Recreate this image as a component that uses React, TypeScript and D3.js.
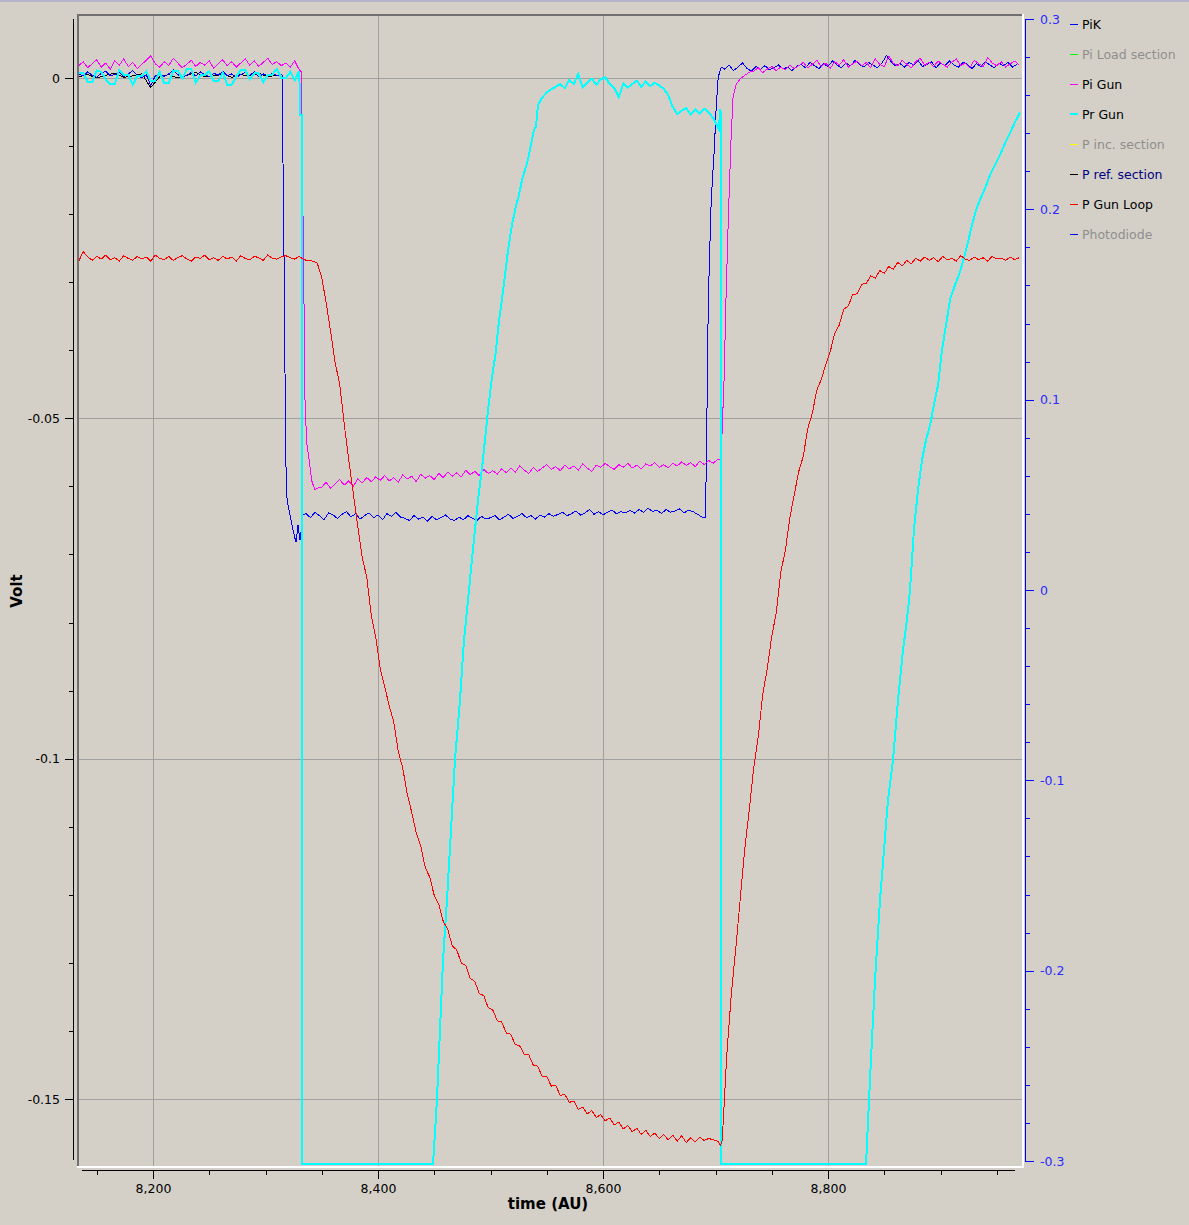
import React from 'react';
import * as d3 from 'd3';

const W = 1189;
const H = 1225;

// ---------- axis ticks ----------
const xMajorTicks = [8200, 8400, 8600, 8800];
const xMinorTicks = [8150, 8250, 8300, 8350, 8450, 8500, 8550, 8650, 8700, 8750, 8850, 8900, 8950];
const leftMajorTicks = [0, -0.05, -0.1, -0.15];
const leftMajorLabels = ['0', '-0.05', '-0.1', '-0.15'];
const leftMinorTicks = [-0.01, -0.02, -0.03, -0.04, -0.06, -0.07, -0.08, -0.09, -0.11, -0.12, -0.13, -0.14];
const rightMajorTicks = [0.3, 0.2, 0.1, 0, -0.1, -0.2, -0.3];
const rightMajorLabels = ['0.3', '0.2', '0.1', '0', '-0.1', '-0.2', '-0.3'];
const rightMinorTicks = [0.28, 0.26, 0.24, 0.22, 0.18, 0.16, 0.14, 0.12, 0.08, 0.06, 0.04, 0.02, -0.02, -0.04, -0.06, -0.08, -0.12, -0.14, -0.16, -0.18, -0.22, -0.24, -0.26, -0.28];

// ---------- legend ----------
const legendNames = ['PiK', 'Pi Load section', 'Pi Gun', 'Pr Gun', 'P inc. section', 'P ref. section', 'P Gun Loop', 'Photodiode'];
const legendColors = ['#0000ff', '#00ff00', '#ff00ff', '#00ffff', '#ffff00', '#000000', '#ff0000', '#0000ff'];
const legendTextColors = ['#000000', '#8e8e8e', '#000000', '#000000', '#8e8e8e', '#000080', '#000000', '#8e8e8e'];
const legendWidths = [1, 1, 1, 2, 1, 1, 1, 1];

// ---------- data (time in AU, values in mV) ----------
const SAMPLE_DT = 4;

// P ref. section (black)
const prefStartT = 8134;
const prefStartMv = [0.2, 0.5, 0.0, 0.4, 0.7, 0.1, 0.3, 0.6, -1.4, 0.2, 0.5, 0.0, 0.4, 0.8, 0.2, 0.3, 0.6, 0.1, 0.5, 0.3, 0.7, 0.2, 0.4];

// PiK (blue)
const pikStartT = 8134;
const pikStartMv = [0.6, 0.3, 0.9, 0.4, 0.1, 0.7, 1.0, 0.3, 0.5, 0.8, 0.2, 0.6, 1.1, 0.4, 0.0, 0.5, -1.1, 0.3, 0.7, 0.2, 0.6, 1.2, 0.5, 0.1, 0.4, 0.8, 0.3, 0.9, 0.5, 0.2, 0.7, 0.4, 1.0, 0.3, 0.6, 0.1, 0.5, 0.8, 0.4, 0.9, 0.2, 0.6, 0.3, 0.7, 0.4, 0.5];
const pikDropPts: [number, number][] = [[8314.7, 0.4], [8316.4, -25], [8318, -56], [8319.2, -62], [8321, -63.5], [8322.7, -64.9], [8324.4, -66.4], [8326, -67.5], [8327.1, -68.2], [8328.9, -65.7], [8330.7, -67.9], [8333.3, -64.2]];
const pikPlateauT = 8336;
const pikPlateauMv = [
  -64.0, -64.6, -63.8, -64.3, -64.9, -63.9, -64.2, -64.7, -64.1, -63.7, -64.5, -64.0, -64.8, -64.3, -63.9, -64.6, -64.2, -64.9, -64.0, -64.4, -63.8, -64.5,
  -64.7, -65.0, -64.3, -64.8, -64.5, -65.1, -64.4, -64.9, -64.6, -64.2, -64.8, -65.0, -64.5, -64.9, -64.3, -64.7, -65.0, -64.4, -64.8, -64.6,
  -64.3, -64.9, -64.5, -64.1, -64.7, -64.4, -64.0, -64.6, -64.3, -64.8, -64.2, -64.5, -64.0, -64.4, -64.1,
  -63.8, -64.3, -64.0, -63.6, -64.2, -63.9, -63.4, -64.1, -63.7, -64.2, -63.8, -63.5, -64.0, -63.7, -63.9,
  -63.5, -63.9, -63.4, -63.8, -63.2, -63.7, -63.5, -64.0, -63.4, -63.8, -63.6, -63.3, -63.9, -63.5, -63.7, -64.1, -64.5,
];
const pikRisePts: [number, number][] = [[8690.9, -64.5], [8691.8, -57.6], [8693.6, -32.6], [8696.2, -17.9], [8698.9, -10.6], [8700.7, -4.0], [8702.4, 0.1], [8705.1, 1.6]];
const pikEndT = 8708;
const pikEndMv = [
  1.3, 1.9, 1.1, 1.6, 2.2, 1.4, 1.0, 1.7, 1.3, 1.8, 1.2, 1.5, 1.9, 1.3, 1.6, 1.1, 1.7,
  2.0, 1.5, 2.3, 1.8, 1.4, 2.1, 1.7, 2.5, 1.9, 1.5, 2.2, 1.8, 2.6, 2.0, 1.6, 2.3, 1.9, 1.5, 2.2, 3.3,
  2.4, 1.8, 2.1, 1.6, 2.3, 1.9, 2.6, 1.7, 2.0, 2.4, 1.5, 2.2, 1.8, 2.5, 1.9, 1.6, 2.3, 2.0, 1.4, 2.1, 1.7, 2.4, 1.9, 1.5, 2.2, 1.8, 2.3, 1.6, 2.0,
];

// Pi Gun (magenta)
const piGunStartT = 8134;
const piGunStartMv = [
  1.8, 2.4, 1.5, 2.1, 2.7, 1.6, 2.2, 1.3, 2.5, 1.9, 2.8, 1.7, 2.3, 1.4, 2.0, 2.6, 3.3, 2.1, 1.6, 2.4,
  1.8, 2.9, 2.2, 1.5, 2.0, 2.6, 1.7, 2.3, 1.9, 2.5, 1.4, 2.1, 2.7, 1.8, 2.4, 1.6, 2.2, 2.8, 1.9, 2.5,
  1.7, 2.3, 2.9, 2.0, 2.4, 1.8, 2.2, 1.6, 2.5, 1.2,
];
const piGunDropPts: [number, number][] = [[8331.9, 0.9], [8332.4, -6.2], [8333.1, -16.8], [8334.2, -32.6], [8335.1, -47.3], [8336.6, -53.6], [8338.8, -56.1], [8341.0, -59.1], [8342.4, -59.8], [8344.0, -60.5], [8346.9, -60.2]];
const piGunPlateauT = 8350;
const piGunPlateauMv = [
  -60.1, -59.4, -60.3, -59.6, -59.0, -59.8, -59.2, -60.0, -58.9, -59.5, -58.7, -59.3, -58.6,
  -59.1, -58.4, -59.2, -58.7, -59.4, -58.3, -58.9, -58.5, -59.3, -58.2, -58.8, -58.4, -59.0,
  -58.1, -58.7, -57.9, -58.5, -58.0, -58.6, -57.6, -58.3, -57.8, -58.4, -57.5, -58.1, -57.7,
  -58.2, -57.4, -58.0, -57.3, -57.9, -57.0, -57.6, -58.1, -57.2, -57.8, -57.3, -56.8, -57.5,
  -57.1, -57.7, -56.9, -57.4, -57.0, -57.6, -56.7, -57.3, -57.8, -56.9, -57.2, -56.6, -57.1,
  -57.5, -56.8, -57.2, -56.6, -57.3, -56.9, -57.4, -56.7, -57.0, -56.5, -57.2, -56.8, -57.3,
  -56.6, -57.0, -56.4, -56.9, -56.5, -57.1, -56.3, -56.8, -56.2, -56.6, -56.0,
];
const piGunRisePts: [number, number][] = [[8704.9, -56.1], [8707.6, -44.4], [8709.3, -32.6], [8711.1, -22.3], [8712.4, -15.7], [8713.8, -9.1], [8715.6, -2.8], [8718.2, -1.0], [8721.8, -0.15], [8726.2, 0.44], [8730.7, 0.88]];
const piGunEndT = 8734;
const piGunEndMv = [
  1.0, 1.5, 0.8, 1.3, 1.7, 1.1, 1.6, 1.2, 1.9, 1.4,
  1.8, 2.3, 1.5, 2.0, 2.6, 1.7, 2.2, 1.4, 2.4, 1.9, 2.7, 1.6, 2.1, 2.5, 1.8, 2.3, 1.5, 2.8, 2.0, 1.7,
  3.2, 2.2, 1.8, 2.6, 2.0, 1.5, 2.4, 2.9, 1.9, 2.3,
  1.7, 2.5, 2.0, 1.6, 2.3, 2.8, 1.8, 2.2, 1.5, 2.6, 2.1, 1.7, 3.0, 2.2, 1.8, 2.4, 1.6, 2.1, 2.5, 1.9,
];

// Pr Gun (cyan) – the trace saturates below the visible range
const prGunStartT = 8134;
const prGunStartMv = [
  0.8, 0.8, -0.6, -0.6, 1.1, 0.9, -0.2, -0.9, -0.9, 1.2, 0.5, 0.5, -1.0, 0.3, 0.3, 1.0, -0.4, -0.4, 0.9, -0.8,
  -0.8, 1.1, 1.1, -0.1, 1.3, 1.3, -0.7, 0.4, 0.4, 1.0, -0.5, -0.5, 0.8, -1.0, -1.0, 0.2, 1.2, 1.2, -0.2, 0.7,
  0.7, -0.6, 0.5, 0.5, 1.3, 0.0, 0.0, 0.9, -0.3, 1.0,
];
const prGunDropPts: [number, number][] = [[8330.9, -5.5], [8332.1, -5.5], [8332.3, -159.6], [8448.9, -159.6]];
const prGunRamp1Pts: [number, number][] = [
  [8452.4, -150.2], [8455.1, -139.9], [8457.8, -129.6], [8461.3, -120.8], [8464.9, -110.5], [8468.4, -100.2], [8472.9, -91.4], [8476.4, -82.6],
  [8480, -76.7], [8484.4, -69.3], [8488.9, -62.0], [8493.3, -56.1], [8496.9, -50.2], [8500.4, -45.1], [8504.9, -40.0], [8507.6, -35.6],
  [8510.2, -32.6], [8512.9, -28.9], [8515.6, -25.3], [8519.1, -21.6], [8521.8, -19.4], [8525.3, -17.2], [8528, -15.0], [8530.7, -13.5],
  [8533.3, -12.0], [8536, -9.8], [8538.7, -7.6], [8540.4, -7.2], [8542.2, -4.0], [8545.8, -2.9], [8550.2, -2.1], [8555.6, -1.5],
];
const prGunPlateauT = 8562;
const prGunPlateauMv = [
  -0.88, -1.5, -0.3, -0.9, 0.59, -1.4, -0.7, -0.1, -1.0, -0.2, 0.1, -0.9, -1.5, -2.79, -0.8, -1.4, -0.9, -0.4,
  -1.3, -0.5, -1.2, -0.7, -1.1, -1.6, -2.5, -4.26, -5.3, -4.8, -4.4, -5.4, -4.6, -5.2, -4.5, -5.1, -5.88, -7.2,
];
const prGunFallPts: [number, number][] = [[8703.3, -7.6], [8703.9, -4.6], [8704.6, -5.0], [8705.0, -159.6], [8833.8, -159.6]];
const prGunRamp2Pts: [number, number][] = [
  [8837.3, -147.2], [8841.8, -132.5], [8846.2, -120.8], [8849.8, -113.4], [8853.3, -106.1], [8857.8, -100.2], [8862.2, -91.4], [8866.7, -84.0],
  [8870.2, -79.6], [8872.9, -75.2], [8876.4, -66.4], [8880, -60.5], [8883.6, -56.1], [8887.1, -53.2], [8890.7, -51.0], [8894.2, -48.0],
  [8897.8, -45.1], [8901.3, -40.0], [8904.9, -36.3], [8908.4, -32.6], [8912.9, -30.4], [8917.3, -28.5], [8920.9, -26.4], [8924.4, -24.1],
  [8928, -21.6], [8931.6, -19.4], [8935.1, -17.9], [8939.6, -16.2], [8944, -14.3], [8948.4, -12.8], [8952.9, -11.3], [8957.3, -9.6],
  [8961.8, -8.1], [8966.2, -6.5], [8970.7, -5.1],
];

// P Gun Loop (red)
const gunLoopStartT = 8134;
const gunLoopStartMv = [
  -26.9, -25.5, -26.3, -26.8, -26.2, -26.6, -26.0, -26.7, -26.4, -26.9, -26.1, -26.5, -26.8, -26.2, -26.6, -26.3, -26.9, -26.0, -26.5, -26.7,
  -26.2, -26.8, -26.4, -26.1, -26.6, -26.9, -26.3, -26.5, -26.0, -26.7, -26.4, -26.8, -26.2, -26.6, -26.3, -26.9, -26.1, -26.5, -26.7, -26.2,
  -26.4, -26.8, -26.0, -26.5, -26.6, -26.3, -26.1, -26.4, -26.6, -26.2, -26.7, -26.8, -26.9, -27.2,
];
const gunLoopDecayT = 8350;
const gunLoopDecayMv = [
  -29.3, -33.1, -37.4, -41.9, -45.0, -50.9, -56.1, -61.0, -65.8, -70.5, -73.3, -78.9, -82.2, -86.8, -89.4, -92.3, -94.6, -98.9, -101.4, -105.2,
  -107.9, -110.9, -112.8, -116.0, -117.4, -120.1, -121.4, -123.9, -125.1, -127.5, -128.1, -130.0, -130.4, -132.3, -132.7, -134.5, -134.8, -136.6, -136.9, -138.5,
  -138.7, -140.3, -140.5, -142.0, -142.2, -143.5, -143.5, -145.0, -145.2, -146.7, -146.7, -148.1, -148.0, -149.5, -149.3, -150.5, -150.3, -151.5, -151.2, -152.2,
  -151.7, -152.7, -152.3, -153.2, -152.8, -153.8, -153.4, -154.4, -153.9, -154.8, -154.3, -155.2, -154.6, -155.5, -155.0, -155.8, -155.2, -156.0, -155.3, -156.2,
  -155.4, -156.4, -155.7, -156.3, -155.6, -156.1, -155.8, -156.0, -156.2,
];
const gunLoopMinPts: [number, number][] = [[8704.6, -156.8]];
const gunLoopRiseT = 8706;
const gunLoopRiseMv = [
  -156.0, -143.6, -134.7, -127.9, -120.6, -113.3, -107.5, -101.3, -96.8, -90.5, -86.8, -82.0, -78.6, -72.6, -69.5, -64.7, -61.2, -57.8, -55.6, -51.5,
  -49.3, -45.9, -44.3, -42.1, -40.2, -37.5, -36.3, -34.0, -33.5, -31.8, -31.7, -30.3, -30.2, -29.1, -29.4, -28.3, -28.7, -27.7, -28.1, -27.1,
  -27.6, -26.8, -27.3,
  -26.5, -26.9, -26.3, -26.8, -26.4, -27.0, -26.2, -26.7, -26.5, -26.9, -26.1, -26.6, -26.8, -26.3, -26.7, -26.4, -26.9, -26.2, -26.6, -26.5,
  -26.8, -26.3, -26.7, -26.4,
];

// ---------- assembly helpers ----------
type Pt = [number, number];
const sampled = (t0: number, vals: number[], dt: number = SAMPLE_DT): Pt[] => vals.map((v, i) => [t0 + i * dt, v] as Pt);

const seriesPref: Pt[] = sampled(prefStartT, prefStartMv, 8);
const seriesPik: Pt[] = [...sampled(pikStartT, pikStartMv), ...pikDropPts, ...sampled(pikPlateauT, pikPlateauMv), ...pikRisePts, ...sampled(pikEndT, pikEndMv)];
const seriesPiGun: Pt[] = [...sampled(piGunStartT, piGunStartMv), ...piGunDropPts, ...sampled(piGunPlateauT, piGunPlateauMv), ...piGunRisePts, ...sampled(piGunEndT, piGunEndMv)];
const seriesPrGun: Pt[] = [...sampled(prGunStartT, prGunStartMv), ...prGunDropPts, ...prGunRamp1Pts, ...sampled(prGunPlateauT, prGunPlateauMv), ...prGunFallPts, ...prGunRamp2Pts];
const seriesGunLoop: Pt[] = [...sampled(gunLoopStartT, gunLoopStartMv), ...sampled(gunLoopDecayT, gunLoopDecayMv), ...gunLoopMinPts, ...sampled(gunLoopRiseT, gunLoopRiseMv)];

const curves = [
  { data: seriesPref, color: '#000000', width: 1 },
  { data: seriesPik, color: '#0000ff', width: 1 },
  { data: seriesPiGun, color: '#ff00ff', width: 1 },
  { data: seriesPrGun, color: '#00ffff', width: 2 },
  { data: seriesGunLoop, color: '#ff0000', width: 1 },
];

// ---------- layout ----------
const CANVAS = { left: 79, top: 16, right: 1022, bottom: 1166 };
const FONT = '"DejaVu Sans", Verdana, sans-serif';

export default function App() {
  const x = d3.scaleLinear().domain([8200, 8800]).range([153, 828]);
  const yL = d3.scaleLinear().domain([-0.15, 0]).range([1099, 78]);
  const yR = d3.scaleLinear().domain([-0.3, 0.3]).range([1161, 19]);
  const fmtX = d3.format(',');

  const line = d3
    .line<Pt>()
    .x((d) => x(d[0]))
    .y((d) => yL(d[1] / 1000));

  const px = (v: number) => Math.round(v) + 0.5;

  return (
    <div style={{ position: 'absolute', left: 0, top: 0, width: W, height: H }}>
      <svg width={W} height={H} style={{ display: 'block', background: '#d4d0c8' }} fontFamily={FONT}>
        <rect x={0} y={0} width={W} height={H} fill="#d4d0c8" />
        <rect x={0} y={0} width={W} height={2} fill="#b4b4c8" />

        <defs>
          <clipPath id="canvasClip">
            <rect x={CANVAS.left} y={CANVAS.top} width={CANVAS.right - CANVAS.left} height={CANVAS.bottom - CANVAS.top} />
          </clipPath>
        </defs>

        {/* canvas frame */}
        <rect x={77} y={14} width={2} height={1154} fill="#707070" />
        <rect x={77} y={14} width={947} height={2} fill="#707070" />
        <rect x={77} y={1166} width={947} height={2} fill="#ffffff" />
        <rect x={1022} y={14} width={2} height={1154} fill="#ffffff" />

        {/* grid */}
        <g stroke="#a0a0a0" strokeWidth={1} shapeRendering="crispEdges">
          {xMajorTicks.map((t) => (
            <line key={'gx' + t} x1={px(x(t))} x2={px(x(t))} y1={CANVAS.top} y2={CANVAS.bottom} />
          ))}
          {leftMajorTicks.map((v) => (
            <line key={'gy' + v} x1={CANVAS.left} x2={CANVAS.right} y1={px(yL(v))} y2={px(yL(v))} />
          ))}
        </g>

        {/* curves */}
        <g clipPath="url(#canvasClip)" fill="none" shapeRendering="crispEdges" strokeLinejoin="miter">
          {curves.map((c, i) => (
            <path key={i} d={line(c.data) || ''} stroke={c.color} strokeWidth={c.width} />
          ))}
        </g>

        {/* left axis */}
        <g shapeRendering="crispEdges" stroke="#000">
          <line x1={73.5} x2={73.5} y1={19} y2={1160} />
          {leftMajorTicks.map((v) => (
            <line key={'lt' + v} x1={65} x2={73} y1={px(yL(v))} y2={px(yL(v))} />
          ))}
          {leftMinorTicks.map((v) => (
            <line key={'lm' + v} x1={69} x2={73} y1={px(yL(v))} y2={px(yL(v))} />
          ))}
        </g>
        {leftMajorTicks.map((v, i) => (
          <text key={'ll' + v} x={60} y={yL(v)} textAnchor="end" dominantBaseline="central" fontSize={12.5} fill="#000">
            {leftMajorLabels[i]}
          </text>
        ))}
        <text
          transform="translate(17,591) rotate(-90)"
          textAnchor="middle"
          dominantBaseline="central"
          fontSize={15}
          fontWeight="bold"
          fill="#000"
        >
          Volt
        </text>

        {/* right axis */}
        <g shapeRendering="crispEdges" stroke="#0000ff">
          <line x1={1025.5} x2={1025.5} y1={19} y2={1162} />
          {rightMajorTicks.map((v) => (
            <line key={'rt' + v} x1={1025} x2={1034} y1={px(yR(v))} y2={px(yR(v))} />
          ))}
          {rightMinorTicks.map((v) => (
            <line key={'rm' + v} x1={1025} x2={1030} y1={px(yR(v))} y2={px(yR(v))} />
          ))}
        </g>
        {rightMajorTicks.map((v, i) => (
          <text key={'rl' + v} x={1040} y={yR(v)} textAnchor="start" dominantBaseline="central" fontSize={12.5} fill="#2a2aff">
            {rightMajorLabels[i]}
          </text>
        ))}

        {/* bottom axis */}
        <g shapeRendering="crispEdges" stroke="#000">
          <line x1={82} x2={1015} y1={1170.5} y2={1170.5} />
          {xMajorTicks.map((t) => (
            <line key={'bt' + t} x1={px(x(t))} x2={px(x(t))} y1={1170} y2={1179} />
          ))}
          {xMinorTicks.map((t) => (
            <line key={'bm' + t} x1={px(x(t))} x2={px(x(t))} y1={1170} y2={1175} />
          ))}
        </g>
        {xMajorTicks.map((t) => (
          <text key={'bl' + t} x={x(t) + 0.5} y={1188} textAnchor="middle" dominantBaseline="central" fontSize={12.5} fill="#000">
            {fmtX(t)}
          </text>
        ))}
        <text x={548} y={1204} textAnchor="middle" dominantBaseline="central" fontSize={15} fontWeight="bold" fill="#000">
          time (AU)
        </text>

        {/* legend */}
        {legendNames.map((name, i) => {
          const y = 24 + i * 30;
          return (
            <g key={name}>
              <line
                x1={1070}
                x2={1078}
                y1={legendWidths[i] === 2 ? y : y + 0.5}
                y2={legendWidths[i] === 2 ? y : y + 0.5}
                stroke={legendColors[i]}
                strokeWidth={legendWidths[i]}
                shapeRendering="crispEdges"
              />
              <text x={1082} y={y} dominantBaseline="central" fontSize={12.5} fill={legendTextColors[i]}>
                {name}
              </text>
            </g>
          );
        })}
      </svg>
    </div>
  );
}
